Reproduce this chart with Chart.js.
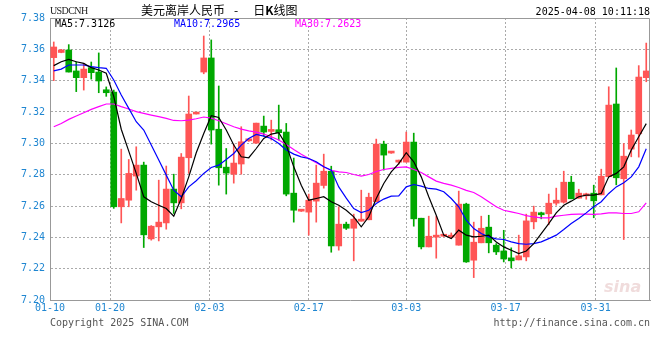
<!DOCTYPE html>
<html>
<head>
<meta charset="utf-8">
<script src="https://cdn.jsdelivr.net/npm/chart.js@4.4.1/dist/chart.umd.min.js"></script>
<style>
  body { margin: 0; background: #fff; }
  #wrap { position: relative; width: 660px; height: 360px; }
  .txt { position: absolute; white-space: pre; font-family: "DejaVu Sans Mono", monospace; font-size: 10px; line-height: 12px; }
</style>
</head>
<body>
<div id="wrap">
  <canvas id="kline" width="660" height="360"></canvas>
  <div class="txt" style="left:50px;top:5px;font-family:'Liberation Serif',serif;font-size:10px;letter-spacing:-0.6px;color:#222;">USDCNH</div>
  <div class="txt" style="left:141px;top:2px;font-family:'Noto Sans CJK SC',sans-serif;font-size:12px;line-height:16px;color:#000;">美元离岸人民币<span style="margin-left:9px">-</span><span style="margin-left:15px">日<b>K</b>线图</span></div>
  <div class="txt" style="right:10px;top:6px;color:#000;">2025-04-08 10:11:18</div>
  <div class="txt" style="left:55px;top:18px;color:#000;">MA5:7.3126</div>
  <div class="txt" style="left:174px;top:18px;color:#0000ff;">MA10:7.2965</div>
  <div class="txt" style="left:295px;top:18px;color:#ff00ff;">MA30:7.2623</div>
  <div class="txt" style="left:50px;top:317px;color:#555;">Copyright 2025 SINA.COM</div>
  <div class="txt" style="right:10px;top:317px;color:#555;">http://finance.sina.com.cn</div>
  <div class="txt" style="left:604px;top:277px;font-family:'DejaVu Sans',sans-serif;font-size:16px;line-height:20px;font-weight:bold;font-style:italic;color:rgba(200,130,130,0.28);">sina</div>
</div>
<script>
// Kerzen (USDCNH, Tageswerte)
const open = [
  7.3547,7.3580,7.3596,7.3462,7.3419,7.3483,7.3455,7.3342,7.3327,7.2595,
  7.2637,7.2791,7.2861,7.2390,7.2467,7.2492,7.2708,7.2620,7.2908,7.3187,
  7.3455,7.3545,7.3090,7.2848,7.2803,7.2868,7.3016,7.3001,7.3110,7.3076,
  7.3087,7.3072,7.2682,7.2567,7.2561,7.2631,7.2731,7.2822,7.2345,7.2484,
  7.2458,7.2503,7.2512,7.2627,7.2995,7.2938,7.2880,7.2880,7.3008,7.2522,
  7.2339,7.2401,7.2407,7.2401,7.2350,7.2612,7.2254,7.2365,7.2465,7.2350,
  7.2313,7.2269,7.2256,7.2275,7.2499,7.2552,7.2550,7.2618,7.2624,7.2752,
  7.2650,7.2665,7.2682,7.2671,7.2787,7.3251,7.2774,7.2963,7.3061,7.3419
];
const high = [
  7.3647,7.3600,7.3630,7.3520,7.3510,7.3519,7.3577,7.3360,7.3340,7.2963,
  7.2897,7.2978,7.2880,7.2475,7.2765,7.2855,7.2803,7.2935,7.3302,7.3195,
  7.3685,7.3660,7.3366,7.2967,7.2995,7.3106,7.3024,7.3129,7.3174,7.3148,
  7.3244,7.3127,7.2906,7.2576,7.2676,7.2861,7.2931,7.2854,7.2595,7.2497,
  7.2548,7.2701,7.2682,7.3027,7.3014,7.2946,7.2893,7.3072,7.3065,7.2522,
  7.2535,7.2535,7.2416,7.2428,7.2695,7.2618,7.2497,7.2535,7.2541,7.2360,
  7.2445,7.2333,7.2414,7.2548,7.2599,7.2561,7.2676,7.2714,7.2822,7.2790,
  7.2707,7.2682,7.2733,7.2835,7.3361,7.3481,7.2999,7.3085,7.3496,7.3640
];
const low = [
  7.3400,7.3578,7.3455,7.3330,7.3340,7.3410,7.3323,7.3300,7.2585,7.2492,
  7.2595,7.2701,7.2335,7.2382,7.2377,7.2452,7.2552,7.2582,7.2808,7.3187,
  7.3444,7.2995,7.2733,7.2676,7.2746,7.2803,7.3012,7.3001,7.3046,7.3021,
  7.3021,7.2665,7.2497,7.2565,7.2414,7.2497,7.2714,7.2305,7.2318,7.2450,
  7.2250,7.2503,7.2512,7.2627,7.2829,7.2936,7.2867,7.2880,7.2471,7.2326,
  7.2339,7.2267,7.2405,7.2392,7.2350,7.2240,7.2143,7.2365,7.2301,7.2290,
  7.2243,7.2205,7.2256,7.2250,7.2454,7.2518,7.2480,7.2605,7.2618,7.2646,
  7.2650,7.2643,7.2525,7.2671,7.2787,7.2735,7.2386,7.2914,7.2912,7.3393
];
const close = [
  7.3615,7.3596,7.3455,7.3419,7.3474,7.3451,7.3398,7.3323,7.2595,7.2648,
  7.2808,7.2861,7.2416,7.2471,7.2497,7.2708,7.2620,7.2912,7.3187,7.3195,
  7.3545,7.3085,7.2844,7.2810,7.2874,7.3010,7.3021,7.3129,7.3072,7.3087,
  7.3068,7.2676,7.2573,7.2573,7.2637,7.2746,7.2822,7.2345,7.2484,7.2458,
  7.2516,7.2516,7.2656,7.2995,7.2925,7.2944,7.2893,7.3008,7.2518,7.2339,
  7.2407,7.2414,7.2414,7.2407,7.2612,7.2243,7.2369,7.2458,7.2365,7.2307,
  7.2262,7.2250,7.2282,7.2505,7.2561,7.2544,7.2618,7.2637,7.2752,7.2646,
  7.2682,7.2675,7.2633,7.2790,7.3244,7.2780,7.2918,7.3053,7.3423,7.3462
];

// Gleitende Durchschnitte
const ma5 = [
  7.3496,7.3521,7.3536,7.3521,7.3510,7.3483,7.3468,7.3447,7.3300,7.3090,
  7.2950,7.2808,7.2659,7.2627,7.2605,7.2584,7.2535,7.2648,7.2786,7.2940,
  7.3063,7.3176,7.3165,7.3085,7.2989,7.2914,7.2908,7.2967,7.3031,7.3059,
  7.3068,7.2989,7.2850,7.2733,7.2637,7.2648,7.2659,7.2627,7.2605,7.2573,
  7.2531,7.2467,7.2531,7.2648,7.2744,7.2818,7.2871,7.2940,7.2882,7.2786,
  7.2659,7.2541,7.2414,7.2392,7.2446,7.2414,7.2403,7.2407,7.2414,7.2370,
  7.2339,7.2318,7.2296,7.2313,7.2360,7.2424,7.2488,7.2556,7.2605,7.2631,
  7.2659,7.2669,7.2669,7.2680,7.2786,7.2808,7.2850,7.2957,7.3042,7.3126
];
const ma10 = [
  7.3462,7.3474,7.3500,7.3500,7.3500,7.3490,7.3483,7.3479,7.3404,7.3308,
  7.3223,7.3138,7.3085,7.2989,7.2893,7.2797,7.2701,7.2659,7.2722,7.2761,
  7.2808,7.2846,7.2861,7.2897,7.2935,7.2989,7.3031,7.3057,7.3046,7.3031,
  7.2999,7.2957,7.2931,7.2914,7.2903,7.2882,7.2850,7.2829,7.2722,7.2650,
  7.2584,7.2558,7.2573,7.2616,7.2644,7.2663,7.2665,7.2722,7.2737,7.2727,
  7.2712,7.2708,7.2691,7.2648,7.2595,7.2509,7.2456,7.2424,7.2403,7.2390,
  7.2386,7.2371,7.2360,7.2356,7.2360,7.2371,7.2392,7.2414,7.2450,7.2488,
  7.2520,7.2556,7.2595,7.2627,7.2680,7.2722,7.2748,7.2786,7.2850,7.2965
];
const ma30 = [
  7.3106,7.3127,7.3153,7.3174,7.3195,7.3217,7.3234,7.3251,7.3251,7.3234,
  7.3219,7.3202,7.3191,7.3180,7.3170,7.3159,7.3146,7.3144,7.3148,7.3157,
  7.3168,7.3161,7.3144,7.3125,7.3106,7.3091,7.3080,7.3072,7.3059,7.3042,
  7.3021,7.2993,7.2961,7.2931,7.2903,7.2876,7.2850,7.2827,7.2818,7.2814,
  7.2801,7.2791,7.2801,7.2820,7.2833,7.2840,7.2846,7.2850,7.2833,7.2814,
  7.2786,7.2759,7.2744,7.2733,7.2718,7.2700,7.2686,7.2659,7.2627,7.2595,
  7.2573,7.2563,7.2552,7.2539,7.2530,7.2524,7.2524,7.2535,7.2541,7.2546,
  7.2548,7.2548,7.2546,7.2550,7.2556,7.2556,7.2552,7.2552,7.2563,7.2620
];

// Datumsachse: Beschriftung + Kerzen-Index
const tickLabels = ['01-10', '01-20', '02-03', '02-17', '03-03', '03-17', '03-31'];
const tickIndex  = [-0.5, 7.5, 20.75, 34, 47, 60.25, 72.25];

const ROT = '#ff5555';
const GRUEN = '#00a800';
const BLAU = '#1f86d1';

const farben = close.map((c, i) => c >= open[i] ? ROT : GRUEN);
const punkte = arr => arr.map((v, i) => ({ x: i, y: v }));

// Rahmen oben/rechts
const rahmen = {
  id: 'rahmen',
  afterDraw(chart) {
    const { ctx, chartArea: a } = chart;
    ctx.save();
    ctx.strokeStyle = '#999';
    ctx.lineWidth = 1;
    ctx.beginPath();
    ctx.moveTo(a.left, a.top + 0.5);
    ctx.lineTo(a.right - 0.5, a.top + 0.5);
    ctx.lineTo(a.right - 0.5, a.bottom);
    ctx.stroke();
    ctx.restore();
  }
};

const ctx = document.getElementById('kline').getContext('2d');
new Chart(ctx, {
  type: 'bar',
  data: {
    datasets: [
      { type: 'line', label: 'MA5', data: punkte(ma5), borderColor: '#000', borderWidth: 1.2, pointRadius: 0, tension: 0, order: 0 },
      { type: 'line', label: 'MA10', data: punkte(ma10), borderColor: '#0000ff', borderWidth: 1.2, pointRadius: 0, tension: 0, order: 0 },
      { type: 'line', label: 'MA30', data: punkte(ma30), borderColor: '#ff00ff', borderWidth: 1.2, pointRadius: 0, tension: 0, order: 0 },
      {
        label: 'Docht',
        data: low.map((l, i) => ({ x: i, y: [l, high[i]] })),
        backgroundColor: farben,
        barThickness: 1,
        grouped: false,
        order: 2
      },
      {
        label: 'Koerper',
        data: open.map((o, i) => ({ x: i, y: [o, close[i]] })),
        backgroundColor: farben,
        barThickness: 6,
        minBarLength: 2,
        grouped: false,
        order: 1
      }
    ]
  },
  options: {
    responsive: false,
    animation: false,
    devicePixelRatio: 1,
    layout: { padding: { top: 18, right: 10, left: 0, bottom: 0 } },
    plugins: { legend: { display: false }, tooltip: { enabled: false } },
    scales: {
      x: {
        type: 'linear',
        min: -0.5,
        max: 79.5,
        offset: false,
        afterFit: s => { s.height = 60; },
        afterBuildTicks: s => { s.ticks = tickIndex.map(v => ({ value: v })); },
        ticks: {
          autoSkip: false,
          maxRotation: 0,
          color: BLAU,
          padding: 2,
          font: { family: 'DejaVu Sans Mono', size: 10 },
          callback: (v, i) => tickLabels[i]
        },
        grid: { color: '#aaa', drawTicks: false, offset: false },
        border: { display: true, color: '#999', dash: [2, 2] }
      },
      y: {
        min: 7.20,
        max: 7.38,
        afterFit: s => { s.width = 50; },
        ticks: {
          stepSize: 0.02,
          color: BLAU,
          padding: 5,
          font: { family: 'DejaVu Sans Mono', size: 10 },
          callback: v => v.toFixed(2)
        },
        grid: { color: '#aaa', drawTicks: false },
        border: { display: true, color: '#999', dash: [2, 2] }
      }
    }
  },
  plugins: [rahmen]
});
</script>
</body>
</html>
